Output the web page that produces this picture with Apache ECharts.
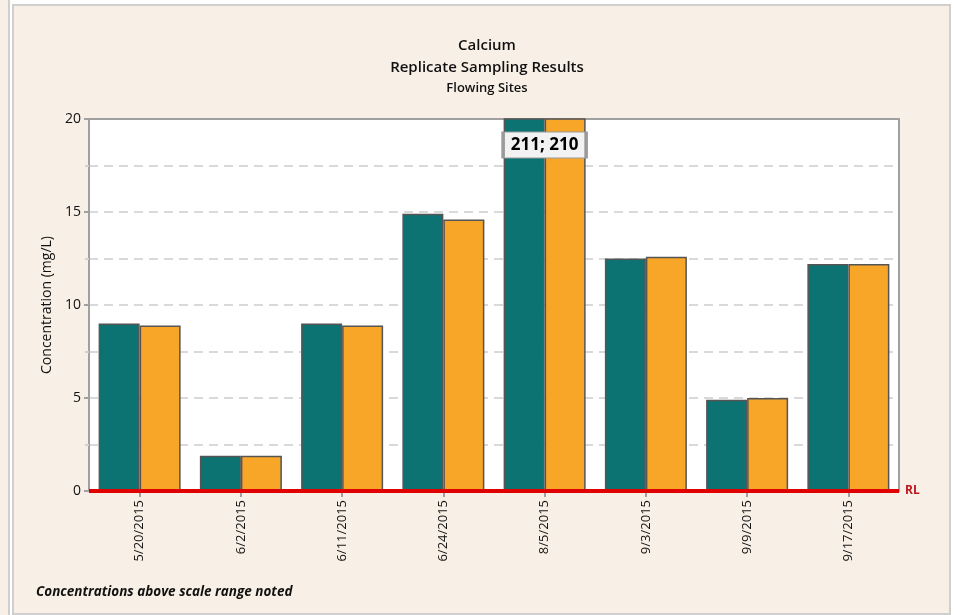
<!DOCTYPE html>
<html>
<head>
<meta charset="utf-8">
<title>Calcium – Replicate Sampling Results</title>
<script src="https://cdn.jsdelivr.net/npm/echarts@6/dist/echarts.min.js"></script>
<style>
  html, body { margin: 0; padding: 0; background: #ffffff; }
  #strip { position: absolute; left: 0; top: 0; width: 8px; height: 615px; background: #f8f0e6; border-right: 2px solid #cfcfcf; }
  #panel { position: absolute; left: 12px; top: 4px; width: 935px; height: 607px; background: #f8f0e6; border: 2px solid #cfcfcf; }
  #chart { position: absolute; left: 0; top: 0; width: 954px; height: 615px; }
</style>
</head>
<body>
<div id="strip"></div>
<div id="panel"></div>
<div id="chart"></div>
<script>
// Sampling dates and paired replicate results (mg/L)
const categories = ['5/20/2015', '6/2/2015', '6/11/2015', '6/24/2015', '8/5/2015', '9/3/2015', '9/9/2015', '9/17/2015'];
const primaryValues = [9.0, 1.9, 9.0, 14.9, 211, 12.5, 4.9, 12.2];
const replicateValues = [8.9, 1.9, 8.9, 14.6, 210, 12.6, 5.0, 12.2];
const yTickValues = [0, 5, 10, 15, 20];
const reportingLimit = 0;

const yMin = yTickValues[0];
const yMax = yTickValues[yTickValues.length - 1];
const yStep = yTickValues[1] - yTickValues[0];

// Dates where either result runs off the top of the scale get a value box
const overflow = [];
categories.forEach((c, i) => {
  if (primaryValues[i] > yMax || replicateValues[i] > yMax) {
    overflow.push({ value: [i, yMax - 1.4], text: primaryValues[i] + '; ' + replicateValues[i] });
  }
});

const FONT = '"Open Sans", "Noto Sans", sans-serif';
const chart = echarts.init(document.getElementById('chart'), null, { renderer: 'canvas' });

chart.setOption({
  animation: false,
  textStyle: { fontFamily: FONT },
  title: [
    { text: 'Calcium', left: 482, top: 33, textAlign: 'center',
      textStyle: { fontSize: 15, fontWeight: 600, color: '#111', fontFamily: FONT } },
    { text: 'Replicate Sampling Results', left: 482, top: 55, textAlign: 'center',
      textStyle: { fontSize: 15, fontWeight: 600, color: '#111', fontFamily: FONT } },
    { text: 'Flowing Sites', left: 482, top: 77, textAlign: 'center',
      textStyle: { fontSize: 13, fontWeight: 600, color: '#111', fontFamily: FONT } }
  ],
  graphic: [
    { type: 'text', left: 36, top: 585,
      style: { text: 'Concentrations above scale range noted', font: 'italic bold 13.5px ' + FONT, fill: '#111' } }
  ],
  grid: {
    left: 89, right: 55, top: 119, bottom: 124,
    show: true, backgroundColor: '#ffffff', borderColor: '#a0a0a0', borderWidth: 2
  },
  xAxis: {
    type: 'category',
    data: categories,
    axisLine: { show: true, lineStyle: { color: '#a0a0a0', width: 2 } },
    axisTick: { show: true, alignWithLabel: true, length: 6, lineStyle: { color: '#a0a0a0', width: 2 } },
    axisLabel: { rotate: 90, fontSize: 13, color: '#111', margin: 9, fontFamily: FONT },
    splitLine: { show: false }
  },
  yAxis: {
    type: 'value',
    min: yMin, max: yMax, interval: yStep,
    name: 'Concentration (mg/L)',
    nameLocation: 'middle', nameGap: 33,
    nameTextStyle: { fontSize: 14, color: '#111', fontFamily: FONT },
    axisLine: { show: true, lineStyle: { color: '#a0a0a0', width: 2 } },
    axisTick: { show: true, length: 5, lineStyle: { color: '#a0a0a0', width: 2 } },
    minorTick: { show: true, splitNumber: 2, length: 4, lineStyle: { color: '#d0d0d0', width: 2 } },
    axisLabel: { fontSize: 14, color: '#111', margin: 8, fontFamily: FONT },
    splitLine: { show: true, showMinLine: false, showMaxLine: false,
                 lineStyle: { color: '#d9d9d9', width: 2, type: [9, 6] } },
    minorSplitLine: { show: true, lineStyle: { color: '#d9d9d9', width: 2, type: [9, 6] } }
  },
  series: [
    {
      name: 'Primary', type: 'bar', data: primaryValues,
      barGap: 0, barCategoryGap: '19%',
      itemStyle: { color: '#0c7372', borderColor: '#555555', borderWidth: 1.5 },
      z: 2
    },
    {
      name: 'Replicate', type: 'bar', data: replicateValues,
      barGap: 0, barCategoryGap: '19%',
      itemStyle: { color: '#f7a628', borderColor: '#555555', borderWidth: 1.5 },
      z: 2,
      markLine: {
        silent: true, symbol: 'none', z: 5,
        lineStyle: { color: '#e00000', width: 4, type: 'solid' },
        label: { show: true, position: 'end', formatter: 'RL', color: '#c0141c',
                 fontWeight: 'bold', fontSize: 12, distance: 6, fontFamily: FONT },
        data: [{ yAxis: reportingLimit }]
      }
    },
    {
      name: 'Above range', type: 'scatter',
      data: overflow,
      symbol: 'rect', symbolSize: [83, 26],
      itemStyle: { color: '#f2f2f2', borderColor: '#9a9a9a', borderWidth: 2, opacity: 1 },
      label: { show: true, position: 'inside', formatter: p => p.data.text,
               fontSize: 17, fontWeight: 'bold', color: '#000', fontFamily: FONT },
      z: 6, silent: true
    }
  ]
});
</script>
</body>
</html>
